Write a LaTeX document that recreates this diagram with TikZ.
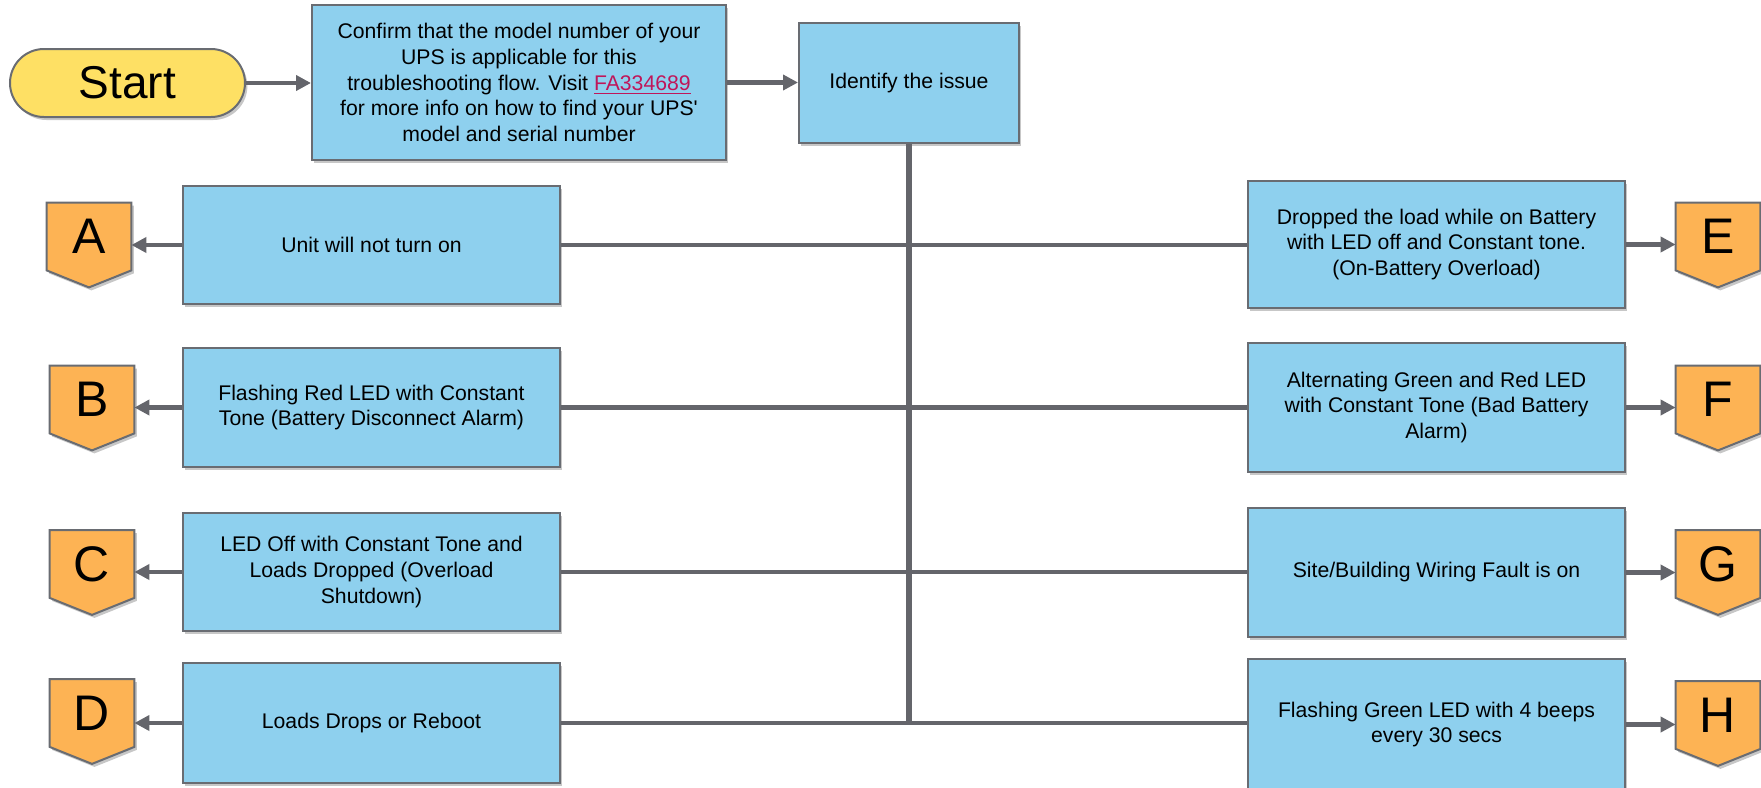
\documentclass[tikz,border=0pt]{standalone}
\usepackage{fontspec}
\setmainfont{Liberation Sans}
\usetikzlibrary{arrows.meta,shadows,calc,backgrounds}
\definecolor{boxblue}{RGB}{142,208,238}
\definecolor{edgegray}{RGB}{105,108,114}
\definecolor{linegray}{RGB}{100,101,107}
\definecolor{chevorange}{RGB}{253,179,84}
\definecolor{startyellow}{RGB}{254,224,100}
\definecolor{linkred}{RGB}{192,22,90}
\tikzset{
  shad/.style={drop shadow={shadow xshift=1.2pt, shadow yshift=-1.5pt, opacity=0.22, fill=black}},
  infobox/.style={draw=edgegray, line width=1pt, fill=boxblue, shad, align=center, inner sep=0pt,
    font=\fontsize{10.6}{12.9}\selectfont},
  leftbox/.style={infobox, minimum width=188.5pt},
  rightbox/.style={infobox, minimum width=188.5pt},
  startnode/.style={draw=edgegray, line width=1pt, fill=startyellow, shad, rounded corners=17pt,
    minimum width=117.5pt, minimum height=34pt, inner sep=0pt, font=\fontsize{23}{23}\selectfont},
  chevbox/.style={minimum width=42pt, minimum height=33.5pt, inner sep=0pt, font=\fontsize{25}{25}\selectfont},
  chevpath/.style={draw=edgegray, line width=1pt, fill=chevorange, shad},
  conn/.style={draw=linegray, line width=2.2pt},
  trunk/.style={draw=linegray, line width=3pt},
  arr/.style={draw=linegray, line width=2.2pt, -{Triangle[length=7.5pt,width=7.5pt]}}
}
\newcommand{\chevshape}[1]{\path[chevpath] (#1.north west) -- (#1.north east) -- (#1.south east) -- ($(#1.south)+(0,17)$) -- (#1.south west) -- cycle;}
\begin{document}
\begin{tikzpicture}[x=0.5pt,y=-0.5pt]
\useasboundingbox (0,0) rectangle (1761,787);
% top row
\node[startnode] (start) at (127.5,83) {Start};
\node[infobox, minimum width=207pt, minimum height=77.5pt] (confirm) at (519,82.5)
  {Confirm that the model number of your\\ UPS is applicable for this\\ troubleshooting flow. Visit \textcolor{linkred}{\underline{FA334689}}\\ for more info on how to find your UPS\textquotesingle\\ model and serial number};
\node[infobox, minimum width=110pt, minimum height=60pt] (identify) at (909,83) {Identify the issue};
% left boxes
\node[leftbox, minimum height=59pt] (bA) at (371.5,245) {Unit will not turn on};
\node[leftbox, minimum height=59.5pt] (bB) at (371.5,407.5) {Flashing Red LED with Constant\\Tone (Battery Disconnect Alarm)};
\node[leftbox, minimum height=59pt] (bC) at (371.5,572) {LED Off with Constant Tone and\\Loads Dropped (Overload\\Shutdown)};
\node[leftbox, minimum height=60pt] (bD) at (371.5,723) {Loads Drops or Reboot};
% right boxes
\node[rightbox, minimum height=63.5pt] (bE) at (1436.5,244.5) {Dropped the load while on Battery\\with LED off and Constant tone.\\(On-Battery Overload)};
\node[rightbox, minimum height=64.5pt] (bF) at (1436.5,407.5) {Alternating Green and Red LED\\with Constant Tone (Bad Battery\\Alarm)};
\node[rightbox, minimum height=64.5pt] (bG) at (1436.5,572.5) {Site/Building Wiring Fault is on};
\node[rightbox, minimum height=65.5pt] (bH) at (1436.5,724.5) {Flashing Green LED with 4 beeps\\every 30 secs};
% chevrons
\node[chevbox] (cA) at (89,236.5) {A};
\node[chevbox] (cB) at (92,399.5) {B};
\node[chevbox] (cC) at (92,564) {C};
\node[chevbox] (cD) at (92,713) {D};
\node[chevbox] (cE) at (1718,236.5) {E};
\node[chevbox] (cF) at (1718,399.5) {F};
\node[chevbox] (cG) at (1718,564) {G};
\node[chevbox] (cH) at (1718,715) {H};
\begin{scope}[on background layer]
\chevshape{cA}\chevshape{cB}\chevshape{cC}\chevshape{cD}
\chevshape{cE}\chevshape{cF}\chevshape{cG}\chevshape{cH}
\end{scope}
% connectors
\draw[arr] (start.east) -- (start.east -| confirm.west);
\draw[arr] (confirm.east) -- (confirm.east -| identify.west);
\draw[conn] (bA.east) -- (bA.east -| bE.west);
\draw[conn] (bB.east) -- (bB.east -| bF.west);
\draw[conn] (bC.east) -- (bC.east -| bG.west);
\draw[conn] (bD.east) -- (bD.east -| bH.west);
\draw[trunk] (identify.south) -- (identify.south |- bD.east);
\draw[arr] (bA.west) -- (bA.west -| cA.east);
\draw[arr] (bB.west) -- (bB.west -| cB.east);
\draw[arr] (bC.west) -- (bC.west -| cC.east);
\draw[arr] (bD.west) -- (bD.west -| cD.east);
\draw[arr] (bE.east) -- (bE.east -| cE.west);
\draw[arr] (bF.east) -- (bF.east -| cF.west);
\draw[arr] (bG.east) -- (bG.east -| cG.west);
\draw[arr] (bH.east) -- (bH.east -| cH.west);
\end{tikzpicture}
\end{document}
